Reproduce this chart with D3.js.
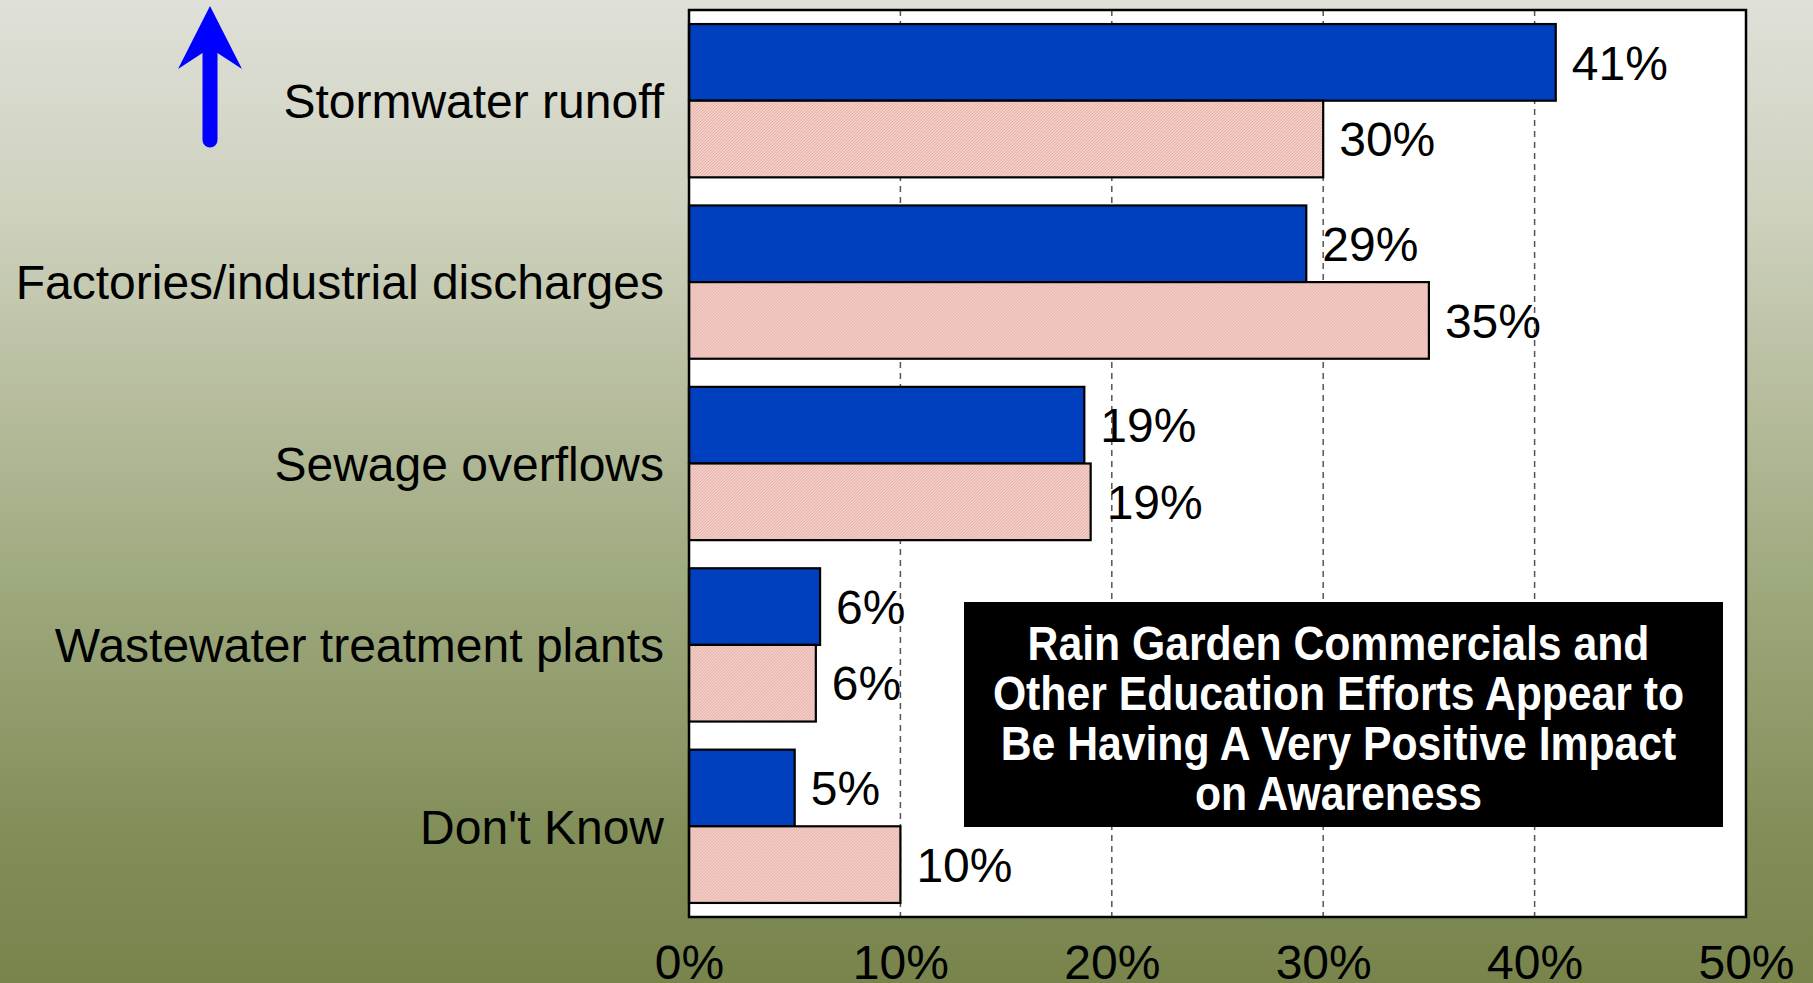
<!DOCTYPE html>
<html>
<head>
<meta charset="utf-8">
<script src="https://cdn.jsdelivr.net/npm/d3@7"></script>
<style>
  html, body { margin: 0; padding: 0; overflow: hidden; }
  svg { display: block; font-family: "Liberation Sans", Arial, sans-serif; }
</style>
</head>
<body>
<svg id="chart" width="1813" height="983"></svg>
<script>
// ---- data ----
const categories = ["Stormwater runoff", "Factories/industrial discharges", "Sewage overflows", "Wastewater treatment plants", "Don't Know"];
const seriesNames = ["Recent", "Earlier"];
const recentValues = [41, 29.2, 18.7, 6.2, 5];
const earlierValues = [30, 35, 19, 6, 10];
const xTicks = [0, 10, 20, 30, 40, 50];
const calloutLines = ["Rain Garden Commercials and", "Other Education Efforts Appear to", "Be Having A Very Positive Impact", "on Awareness"];

// ---- layout ----
const W = 1813, H = 983;
const plot = { left: 689, right: 1746, top: 10, bottom: 917 };

const svg = d3.select("#chart");
const defs = svg.append("defs");

// background gradient
const bg = defs.append("linearGradient").attr("id", "bg").attr("x1", 0).attr("y1", 0).attr("x2", 0).attr("y2", 1);
[[0, "#dfe0d8"], [0.22, "#cdd1bd"], [0.4, "#b7bd9e"], [0.6, "#9da97d"], [0.85, "#828e58"], [1, "#78844c"]]
  .forEach(([o, c]) => bg.append("stop").attr("offset", o).attr("stop-color", c));
svg.append("rect").attr("width", W).attr("height", H).attr("fill", "url(#bg)");

// hatch pattern for pink bars
const pat = defs.append("pattern").attr("id", "hatch").attr("patternUnits", "userSpaceOnUse")
  .attr("width", 3).attr("height", 3);
pat.append("rect").attr("width", 3).attr("height", 3).attr("fill", "#f3cfc8");
pat.append("path").attr("d", "M0,3 L3,0").attr("stroke", "#e3aea6").attr("stroke-width", 1);

// scales
const x = d3.scaleLinear().domain([0, 50]).range([plot.left, plot.right]);
const y = d3.scaleBand().domain(categories).range([plot.top, plot.bottom]).paddingInner(0.155).paddingOuter(0.0775);
const ySub = d3.scaleBand().domain(seriesNames).range([0, y.bandwidth()]);

// plot area
svg.append("rect").attr("x", plot.left).attr("y", plot.top)
  .attr("width", plot.right - plot.left).attr("height", plot.bottom - plot.top)
  .attr("fill", "#ffffff");

// gridlines
svg.append("g").selectAll("line").data(xTicks.filter(t => t > 0 && t < 50)).join("line")
  .attr("x1", d => x(d)).attr("x2", d => x(d))
  .attr("y1", plot.top).attr("y2", plot.bottom)
  .attr("stroke", "#555").attr("stroke-width", 1.5).attr("stroke-dasharray", "6,5");

// bars
const rows = categories.map((c, i) => ({ c, vals: [recentValues[i], earlierValues[i]] }));
const g = svg.append("g").selectAll("g").data(rows).join("g")
  .attr("transform", d => `translate(0,${y(d.c)})`);
g.selectAll("rect").data(d => d.vals.map((v, j) => ({ v, s: seriesNames[j] }))).join("rect")
  .attr("x", x(0)).attr("y", d => ySub(d.s))
  .attr("width", d => x(d.v) - x(0)).attr("height", ySub.bandwidth())
  .attr("fill", d => d.s === "Recent" ? "#0040bf" : "url(#hatch)")
  .attr("stroke", "#000").attr("stroke-width", 2.2);

// value labels
g.selectAll("text").data(d => d.vals.map((v, j) => ({ v, s: seriesNames[j] }))).join("text")
  .attr("x", d => x(d.v) + 16)
  .attr("y", d => ySub(d.s) + ySub.bandwidth() / 2)
  .attr("dy", "0.36em")
  .attr("font-size", 48).attr("fill", "#000")
  .text(d => Math.round(d.v) + "%");

// frame
svg.append("rect").attr("x", plot.left).attr("y", plot.top)
  .attr("width", plot.right - plot.left).attr("height", plot.bottom - plot.top)
  .attr("fill", "none").attr("stroke", "#000").attr("stroke-width", 2.5);

// category labels
svg.append("g").selectAll("text").data(categories).join("text")
  .attr("x", plot.left - 25).attr("y", d => y(d) + y.bandwidth() / 2)
  .attr("dy", "0.36em").attr("text-anchor", "end")
  .attr("font-size", 48).attr("fill", "#000")
  .text(d => d);

// x axis tick labels
const xAxis = d3.axisBottom(x).tickValues(xTicks).tickSize(0).tickFormat(d => d + "%");
const ax = svg.append("g").attr("transform", `translate(0,${plot.bottom})`).call(xAxis);
ax.select(".domain").remove();
ax.selectAll("text").attr("font-size", 48).attr("font-family", "Liberation Sans, Arial, sans-serif")
  .attr("fill", "#000").attr("dy", 0).attr("y", 62);

// callout box
const box = { x: 964, y: 602, w: 759, h: 225 };
svg.append("rect").attr("x", box.x).attr("y", box.y).attr("width", box.w).attr("height", box.h).attr("fill", "#000");
const cx = box.x + box.w / 2 - 5;
svg.append("g").selectAll("text").data(calloutLines).join("text")
  .attr("transform", (d, i) => `translate(${cx},${660 + i * 50}) scale(0.89,1)`)
  .attr("text-anchor", "middle").attr("font-size", 48).attr("font-weight", "bold")
  .attr("fill", "#fff").text(d => d);

// arrow
const arrow = svg.append("g").attr("fill", "#0000ff");
arrow.append("line").attr("x1", 210).attr("x2", 210).attr("y1", 50).attr("y2", 140)
  .attr("stroke", "#0000ff").attr("stroke-width", 15).attr("stroke-linecap", "round");
arrow.append("path").attr("d", "M210,6 L242,69 L217.5,53 L202.5,53 L178,69 Z");
</script>
</body>
</html>
